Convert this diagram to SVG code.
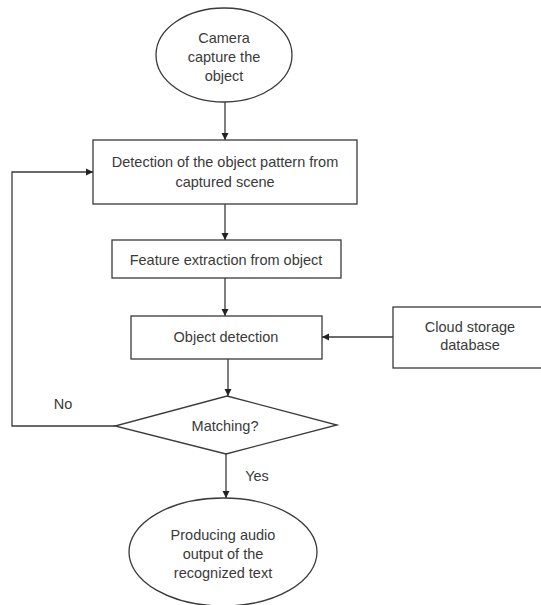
<svg xmlns="http://www.w3.org/2000/svg" width="541" height="605" viewBox="0 0 541 605">
<style>
.s{fill:#fff;stroke:#3a3a3a;stroke-width:1.3}
.t{font-family:"Liberation Sans",Arial,sans-serif;font-size:14.5px;fill:#3a3a3a;text-anchor:middle}
.c{fill:none;stroke:#3a3a3a;stroke-width:1.3}
</style>
<defs>
<marker id="a" markerWidth="8" markerHeight="8" refX="7" refY="4" orient="auto" markerUnits="userSpaceOnUse">
<path d="M0,0.5 L7,4 L0,7.5 Z" fill="#222"/>
</marker>
</defs>
<rect width="541" height="605" fill="#fff"/>
<g id="connectors">
<line class="c" x1="225" y1="102" x2="225" y2="140" marker-end="url(#a)"/>
<line class="c" x1="225" y1="204" x2="225" y2="240" marker-end="url(#a)"/>
<line class="c" x1="225" y1="278" x2="225" y2="316" marker-end="url(#a)"/>
<line class="c" x1="393" y1="337" x2="322" y2="337" marker-end="url(#a)"/>
<line class="c" x1="228" y1="359" x2="228" y2="396" marker-end="url(#a)"/>
<line class="c" x1="226" y1="454" x2="226" y2="498" marker-end="url(#a)"/>
<polyline class="c" points="115,426 12,426 12,172 93,172" marker-end="url(#a)"/>
<text class="t" x="63" y="409">No</text>
<text class="t" x="257" y="481">Yes</text>
</g>
<g id="camera">
<ellipse class="s" cx="224" cy="55" rx="68" ry="47"/>
<text class="t" x="224" y="43">Camera</text>
<text class="t" x="224" y="62">capture the</text>
<text class="t" x="224" y="81">object</text>
</g>
<g id="detection">
<rect class="s" x="93" y="140" width="264" height="64"/>
<text class="t" x="225" y="167">Detection of the object pattern from</text>
<text class="t" x="225" y="187">captured scene</text>
</g>
<g id="feature">
<rect class="s" x="112" y="240" width="229" height="38"/>
<text class="t" x="226" y="265">Feature extraction from object</text>
</g>
<g id="objdet">
<rect class="s" x="131" y="316" width="191" height="43"/>
<text class="t" x="226" y="342">Object detection</text>
</g>
<g id="cloud">
<rect class="s" x="393" y="307" width="150" height="61"/>
<text class="t" x="470" y="332">Cloud storage</text>
<text class="t" x="470" y="350">database</text>
</g>
<g id="matching">
<polygon class="s" points="227,396 337,425 226,454 115,426"/>
<text class="t" x="225" y="431">Matching?</text>
</g>
<g id="audio">
<ellipse class="s" cx="223" cy="552" rx="94" ry="54"/>
<text class="t" x="223" y="540">Producing audio</text>
<text class="t" x="223" y="559">output of the</text>
<text class="t" x="223" y="578">recognized text</text>
</g>
</svg>
